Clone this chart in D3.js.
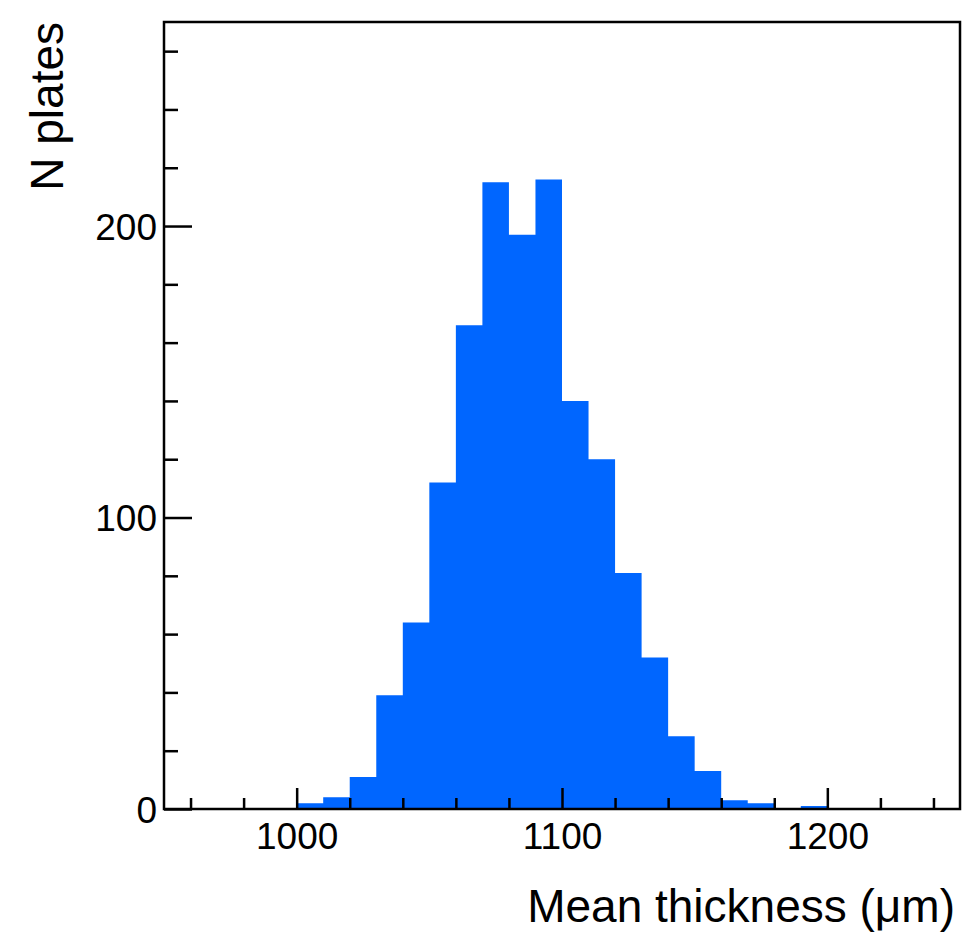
<!DOCTYPE html>
<html>
  <head>
    <meta charset="utf-8">
    <title>Mean thickness</title>
    <script src="https://d3js.org/d3.v7.min.js" type="text/javascript"></script>
    <style>
      body { margin: 0; background: #fff; }
      text { font-family: "Liberation Sans", Arial, sans-serif; fill: #000; }
    </style>
  </head>
  <body>
    <script>
      // histogram bins: lower edges (um) and counts, 10 um wide
      var binEdges = [1000, 1010, 1020, 1030, 1040, 1050, 1060, 1070, 1080, 1090,
                      1100, 1110, 1120, 1130, 1140, 1150, 1160, 1170, 1180, 1190];
      var counts = [2, 4, 11, 39, 64, 112, 166, 215, 197, 216,
                    140, 120, 81, 52, 25, 13, 3, 2, 0, 1];
      var binWidth = 10;

      // axis ticks
      var xMajor = [1000, 1100, 1200];
      var xMinor = [960, 980, 1020, 1040, 1060, 1080, 1120, 1140, 1160, 1180, 1220, 1240];
      var yMajor = [0, 100, 200];
      var yMinor = [20, 40, 60, 80, 120, 140, 160, 180, 220, 240, 260];

      var w = 965, h = 934;
      var padLeft = 164, padRight = 960, padTop = 22, padBottom = 809;

      var svg = d3.select("body").append("svg")
                  .attr("width", w)
                  .attr("height", h);

      var x = d3.scaleLinear().domain([950, 1250]).range([padLeft, padRight]);
      var y = d3.scaleLinear().domain([0, 270]).range([padBottom, padTop]);

      // step outline: one point per bin lower edge, plus the last upper edge
      var steps = binEdges.map(function(e, i) { return {x: e, n: counts[i]}; });
      steps.push({x: binEdges[binEdges.length - 1] + binWidth, n: 0});

      var area = d3.area()
                   .curve(d3.curveStepAfter)
                   .x(function(d) { return x(d.x); })
                   .y0(y(0))
                   .y1(function(d) { return y(d.n); });

      svg.append("path")
         .datum(steps)
         .attr("d", area)
         .style("fill", "#0066ff");

      // ticks point inward, no domain line (the frame is drawn below)
      function styleAxis(g) {
        g.select(".domain").remove();
        g.selectAll("line").style("stroke", "#000").style("stroke-width", 2.5);
      }

      svg.append("g")
         .attr("transform", "translate(0," + padBottom + ")")
         .call(d3.axisBottom(x).tickValues(xMinor).tickSize(-11).tickFormat(""))
         .call(styleAxis);

      var xg = svg.append("g")
         .attr("transform", "translate(0," + padBottom + ")")
         .call(d3.axisBottom(x).tickValues(xMajor).tickSize(-21).tickFormat(d3.format("d")))
         .call(styleAxis);
      xg.selectAll("text")
        .attr("y", 40).attr("dy", null)
        .style("font-size", "37px")
        .style("font-family", "'Liberation Sans', Arial, sans-serif")
        .attr("fill", "#000");

      svg.append("g")
         .attr("transform", "translate(" + padLeft + ",0)")
         .call(d3.axisLeft(y).tickValues(yMinor).tickSize(-14).tickFormat(""))
         .call(styleAxis);

      var yg = svg.append("g")
         .attr("transform", "translate(" + padLeft + ",0)")
         .call(d3.axisLeft(y).tickValues(yMajor).tickSize(-28).tickFormat(d3.format("d")))
         .call(styleAxis);
      yg.selectAll("text")
        .attr("x", -7).attr("dy", "0.36em")
        .style("font-size", "37px")
        .style("font-family", "'Liberation Sans', Arial, sans-serif")
        .attr("fill", "#000");

      // frame
      svg.append("rect")
         .attr("x", padLeft).attr("y", padTop)
         .attr("width", padRight - padLeft).attr("height", padBottom - padTop)
         .style("fill", "none")
         .style("stroke", "#000")
         .style("stroke-width", 2.5);

      // axis titles
      svg.append("text")
         .attr("x", 955).attr("y", 922)
         .attr("text-anchor", "end")
         .style("font-size", "46px")
         .text("Mean thickness (\u03bcm)");

      svg.append("text")
         .attr("transform", "translate(63," + padTop + ") rotate(-90)")
         .attr("text-anchor", "end")
         .style("font-size", "46px")
         .text("N plates");
    </script>
  </body>
</html>
